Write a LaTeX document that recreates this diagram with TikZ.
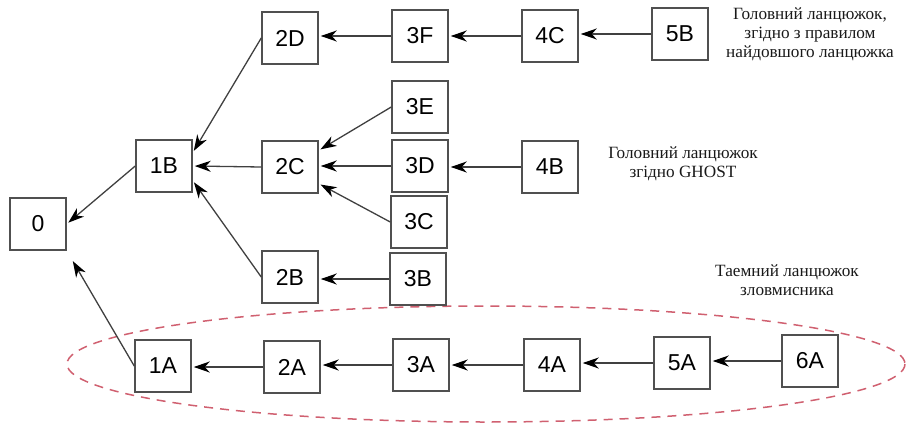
\documentclass[tikz,border=0pt]{standalone}
\usepackage{fontspec}
\setmainfont{Liberation Serif}
\newfontfamily\boxfont{Liberation Sans}
\usetikzlibrary{arrows.meta}
\definecolor{boxline}{HTML}{505050}
\definecolor{linkline}{HTML}{404040}
\definecolor{secretline}{HTML}{D06070}
\begin{document}
\begin{tikzpicture}[x=1pt,y=-1pt,
  block/.style={draw=boxline, line width=1.5pt, fill=white,
    minimum width=56pt, minimum height=52pt, inner sep=0pt,
    font=\boxfont\fontsize{23}{23}\selectfont},
  link/.style={draw=linkline, line width=1.3pt,
    -{Stealth[length=16pt,width=11pt,inset=5pt,color=black]}, shorten >=2pt},
  note/.style={align=center, font=\fontsize{17.2}{19}\selectfont, text=black!90}]
\useasboundingbox (0,0) rectangle (908,426);

% the attacker's secret chain, ringed
\draw[secretline, line width=1.5pt, dash pattern=on 9pt off 7pt]
  (486,364) ellipse [x radius=419, y radius=58];

% blocks
\node[block] (n0)  at (38,224)  {0};
\node[block] (n1B) at (164,166) {1B};
\node[block] (n2D) at (290,38)  {2D};
\node[block] (n3F) at (420,36)  {3F};
\node[block] (n4C) at (550,36)  {4C};
\node[block] (n5B) at (680,34)  {5B};
\node[block] (n3E) at (420,107) {3E};
\node[block] (n2C) at (290,167) {2C};
\node[block] (n3D) at (420,166) {3D};
\node[block] (n4B) at (550,167) {4B};
\node[block] (n3C) at (419,222) {3C};
\node[block] (n2B) at (290,277) {2B};
\node[block] (n3B) at (418,279) {3B};
\node[block] (n1A) at (163,366) {1A};
\node[block] (n2A) at (292,367) {2A};
\node[block] (n3A) at (421,365) {3A};
\node[block] (n4A) at (552,365) {4A};
\node[block] (n5A) at (682,363) {5A};
\node[block] (n6A) at (810,361) {6A};

% links to the parent block
\draw[link] (n1B.west) -- (n0.east);
\draw[link, shorten >=12pt] (n1A.west) -- (n0.south east);
\draw[link] (n2D.west) -- (n1B.25);
\draw[link] (n2C.west) -- (n1B.east);
\draw[link] (n2B.west) -- (n1B.-27);
\draw[link] (n3F.west) -- (n2D.east |- n3F.west);
\draw[link] (n4C.west) -- (n3F.east);
\draw[link] (n5B.west) -- (n4C.east |- n5B.west);
\draw[link] (n3E.west) -- (n2C.30);
\draw[link] (n3D.west) -- (n2C.east |- n3D.west);
\draw[link] (n3C.west) -- (n2C.-30);
\draw[link] (n4B.west) -- (n3D.east |- n4B.west);
\draw[link] (n3B.west) -- (n2B.east |- n3B.west);
\draw[link] (n2A.west) -- (n1A.east |- n2A.west);
\draw[link] (n3A.west) -- (n2A.east |- n3A.west);
\draw[link] (n4A.west) -- (n3A.east);
\draw[link] (n5A.west) -- (n4A.east |- n5A.west);
\draw[link] (n6A.west) -- (n5A.east |- n6A.west);

% captions
\node[note] (capLong) at (810,34) {Головний ланцюжок,\\згідно з правилом\\найдовшого ланцюжка};
\node[note] (capGhost) at (683,164) {Головний ланцюжок\\згідно GHOST};
\node[note] (capSecret) at (787,280) {Таемний ланцюжок\\зловмисника};
\end{tikzpicture}
\end{document}
